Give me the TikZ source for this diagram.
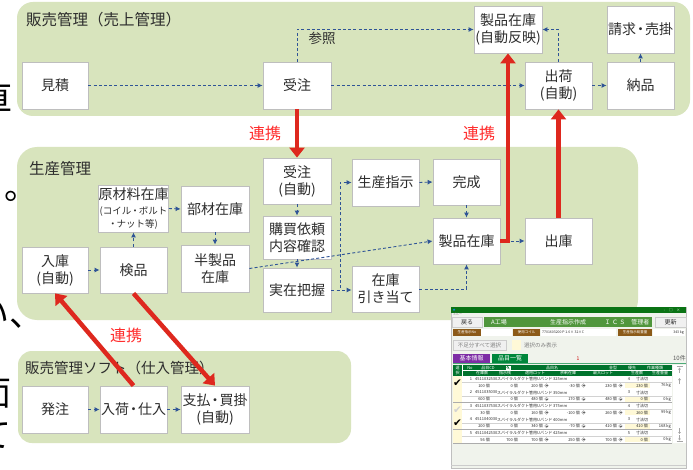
\documentclass[tikz,border=0pt]{standalone}
\usepackage{fontspec}
\setmainfont{Noto Sans CJK JP}
\newfontfamily\dvfont{DejaVu Sans}
\usetikzlibrary{arrows.meta,calc}
\definecolor{panel}{RGB}{216,228,189}
\definecolor{boxline}{RGB}{190,190,190}
\definecolor{dblue}{RGB}{47,84,150}
\definecolor{redarr}{RGB}{222,40,30}
\definecolor{redtxt}{RGB}{255,45,45}
\definecolor{txt}{RGB}{45,45,45}
\definecolor{wingreen}{RGB}{10,115,20}
\definecolor{bargreen}{RGB}{80,150,60}
\definecolor{hdrgreen}{RGB}{0,115,45}
\definecolor{tabgreen}{RGB}{0,135,60}
\definecolor{tabpurple}{RGB}{125,45,165}
\definecolor{brownlbl}{RGB}{140,90,25}
\definecolor{chky}{RGB}{255,249,215}
\definecolor{winbg}{RGB}{240,243,236}
\newcommand\kdot{\kern-2.5pt・\kern-2.5pt}
\newcommand\sdot{\kern-1pt・\kern-1pt}
\tikzset{
  box/.style={draw=boxline, fill=white, line width=0.8pt, inner sep=0pt, align=center,
    font=\fontsize{14}{17}\selectfont, text=txt, minimum width=67pt, minimum height=47pt},
  sz/.style 2 args={minimum width=#1pt, minimum height=#2pt},
  da/.style={draw=dblue, line width=0.9pt, dash pattern=on 3pt off 2.2pt, -{Latex[length=5pt,width=5pt]}},
  ra/.style={draw=redarr, line width=4.5pt, -{Triangle[length=10pt,width=15pt]}},
  lbl/.style={text=redtxt, inner sep=0pt, font=\fontsize{16}{16}\selectfont},
  ttl/.style={anchor=west, inner sep=0pt, text=txt, font=\fontsize{15.5}{16}\selectfont},
  pnl/.style={fill=panel, draw=none},
  frag/.style={inner sep=0pt, text=black, font=\fontsize{34}{34}\selectfont},
  tiny/.style={inner sep=0pt, font=\fontsize{4}{4}\selectfont, text=txt},
  tinyw/.style={inner sep=0pt, font=\fontsize{4}{4}\selectfont, text=white},
  btn/.style={fill=gray!12, draw=gray!40, line width=0.3pt},
}
\begin{document}
\begin{tikzpicture}[x=1pt,y=-1pt]
\useasboundingbox (0,0) rectangle (693,470);
\fill[white] (0,0) rectangle (693,470);
\begin{scope}
\clip (0,0) rectangle (693,470);
% cut-off article text at left edge
\node[frag, anchor=east] (f1) at (13,98) {直};
\node[frag, anchor=west] (f2) at (-29,187) {り。};
\node[frag, anchor=west] (f3) at (-25,316) {い、};
\node[frag, anchor=east] (f4) at (12,394) {面};
\node[frag, anchor=east] (f5) at (12,436) {て};
\end{scope}

% panels
\fill[pnl, rounded corners=16pt] (17,2) rectangle (690,116);
\fill[pnl, rounded corners=20pt] (17,147) rectangle (638,320);
\fill[pnl, rounded corners=14pt] (18,351) rectangle (351,443);
\node[ttl] (t1) at (26,20) {販売管理（売上管理）};
\node[ttl] (t2) at (29,169) {生産管理};
\node[ttl, font=\fontsize{14.5}{15}\selectfont] (t3) at (25,368) {販売管理ソフト（仕入管理）};

% top panel nodes
\node[box, sz={66}{47}] (mitsumori) at (55,85.5) {見積};
\node[box, sz={68}{47}] (juchu) at (297,85.5) {受注};
\node[box, sz={68}{47}] (seihinA) at (508,29.5) {製品在庫\\(自動反映)};
\node[box] (shukka) at (558.5,85.5) {出荷\\(自動)};
\node[box] (seikyu) at (640.5,29.5) {請求\kdot 売掛};
\node[box] (nohin) at (640.5,85.5) {納品};

% middle panel nodes
\node[box] (genzai) at (133.5,208.5) {原材料在庫\\[-2pt]{\fontsize{9.5}{11}\selectfont (コイル\sdot ボルト}\\[-4pt]{\fontsize{9.5}{11}\selectfont \sdot ナット等)}};
\node[box, sz={68}{46}] (buzai) at (215,209) {部材在庫};
\node[box, sz={68}{46}] (juchu2) at (297,181) {受注\\(自動)};
\node[box, sz={68}{43}] (konyu) at (297,237.5) {購買依頼\\内容確認};
\node[box, sz={66}{46}] (nyuko) at (55,270) {入庫\\(自動)};
\node[box, sz={67}{46}] (kenpin) at (133.5,270) {検品};
\node[box, sz={68}{47}] (hanseihin) at (215,268.5) {半製品\\在庫};
\node[box, sz={68}{44}] (jitsuzai) at (297,290) {実在把握};
\node[box] (seisan) at (385.5,182.5) {生産指示};
\node[box, sz={67}{46}] (kansei) at (466.5,182) {完成};
\node[box, sz={67}{46}] (seihinB) at (466.5,241) {製品在庫};
\node[box, sz={67}{46}] (shukko) at (558.5,241) {出庫};
\node[box, sz={67}{46}] (hikiate) at (385.5,289) {在庫\\引き当て};

% bottom panel nodes
\node[box, sz={66}{47}] (hatchu) at (55,409.5) {発注};
\node[box] (nyuka) at (133.5,409.5) {入荷\kdot 仕入};
\node[box, sz={68}{47}] (shiharai) at (215,409.5) {支払\kdot 買掛\\(自動)};

% dashed connectors
\draw[da] (mitsumori.east) -- (juchu.west);
\draw[da] (juchu.east) -- (shukka.west);
\draw[da] (juchu.north) |- (seihinA.west);
\node[inner sep=0pt, text=txt, font=\fontsize{13.5}{14}\selectfont] (sansho) at (322,38) {参照};
\draw[da] (shukka.north) |- (seihinA.east);
\draw[da] (shukka.east) -- (nohin.west);
\draw[da] (nohin.north) -- (seikyu.south);
\draw[da] (nyuko.east) -- (kenpin.west);
\draw[da] (kenpin.north) -- (genzai.south);
\draw[da] (genzai.east) -- (buzai.west);
\draw[da] (buzai.south) -- (hanseihin.north);
\draw[da] (hanseihin.east) -- (seihinB.west);
\draw[da] (juchu2.south) -- (konyu.north);
\draw[da] (konyu.south) -- (jitsuzai.north);
\coordinate (jc) at (340,290);
\draw[da] (jitsuzai.east) -- (jc) |- (seisan.west);
\draw[da] (jitsuzai.east) -- (jitsuzai.east -| hikiate.west);
\draw[da] (hikiate.east) -| (seihinB.south);
\draw[da] (seisan.east) -- (kansei.west);
\draw[da] (kansei.south) -- (seihinB.north);
\draw[da] (seihinB.east) -- (shukko.west);
\draw[da] (hatchu.east) -- (nyuka.west);
\draw[da] (nyuka.east) -- (shiharai.west);

% red connectors
\draw[ra] (juchu.south) -- (juchu2.north);
\draw[ra] (seihinB.east) -| (seihinA.south);
\draw[ra] (shukko.north) -- (shukka.south);
\draw[ra] (nyuka.north) -- (nyuko.south);
\draw[ra] (kenpin.south) -- (shiharai.north);
\node[lbl] (r1) at (265,133) {連携};
\node[lbl] (r2) at (479,133) {連携};
\node[lbl] (r3) at (126,335) {連携};

% ===== software screenshot =====
\fill[winbg] (451,307) rectangle (686,468);
\draw[gray!50, line width=0.4pt] (451,307) rectangle (686,468);
\fill[wingreen] (451,307) rectangle (686,312.5);
\fill[cyan!70!blue] (454,309.7) circle (1.2pt);
\node[tinyw, font=\fontsize{3.5}{4}\selectfont] (wc) at (672,309.7) {-\hspace{4pt}□\hspace{4pt}×};
\node[tiny, anchor=west, text=gray, font=\fontsize{3}{3}\selectfont] (wm) at (453,314.5) {ズルー};
% row 1
\draw[btn] (452,317) rectangle (482,327);
\node[tiny, font=\fontsize{6}{6}\selectfont] (bk) at (467,322) {戻る};
\fill[bargreen] (484,317) rectangle (652,327);
\node[tinyw, font=\fontsize{6}{6}\selectfont] (fa) at (499,322) {A工場};
\node[tinyw, font=\fontsize{6}{6}\selectfont] (fb) at (568,322) {生産指示作成};
\node[tinyw, font=\fontsize{6}{6}\selectfont] (fc) at (627,322) {Ｉ Ｃ Ｓ　管理者};
\draw[btn] (655,317) rectangle (686,327);
\node[tiny, font=\fontsize{6}{6}\selectfont] (up) at (670.5,322) {更新};
% row 2
\fill[brownlbl] (453,329) rectangle (481,336);
\node[tinyw, font=\fontsize{3.5}{4}\selectfont] (l1) at (467,332.5) {生産指示No};
\fill[white] (481,329) rectangle (512,336);
\fill[brownlbl] (513,329) rectangle (540,336);
\node[tinyw, font=\fontsize{3.5}{4}\selectfont] (l2) at (526.5,332.5) {使用コイル};
\fill[white] (541,329) rectangle (616,336);
\node[tiny, anchor=west, font=\fontsize{3.5}{4}\selectfont] (l3) at (542,332.5) {7701603200 P 1.6× 32×C};
\fill[brownlbl] (618,329) rectangle (652,336);
\node[tinyw, font=\fontsize{3.5}{4}\selectfont] (l4) at (635,332.5) {生産指示総重量};
\fill[white] (653,329) rectangle (685,336);
\node[tiny, anchor=east, font=\fontsize{3.5}{4}\selectfont] (l5) at (684,332.5) {343 kg};
% row 3
\draw[btn] (453,340) rectangle (506,350);
\node[tiny, text=gray, font=\fontsize{5.5}{6}\selectfont] (sel) at (479.5,345) {不足分すべて選択};
\fill[chky] (512,340) rectangle (521,350);
\node[tiny, anchor=west, text=gray, font=\fontsize{5.5}{6}\selectfont] (sel2) at (524,345) {選択のみ表示};
% tabs
\fill[tabpurple] (453,354) rectangle (490,362.5);
\node[tinyw, font=\fontsize{6}{6}\selectfont] (tb1) at (471.5,358.2) {基本情報};
\fill[tabgreen] (492,354) rectangle (528,362.5);
\node[tinyw, font=\fontsize{6}{6}\selectfont] (tb2) at (510,358.2) {品目一覧};
\node[tiny, text=red!80!black, font=\fontsize{5}{5}\selectfont] (one) at (578,358.5) {1};
\node[tiny, anchor=east, text=gray!70!black, font=\fontsize{6}{6}\selectfont] (cnt) at (686,358.2) {10件};
\fill[tabgreen!70] (453,362.5) rectangle (686,364);
% table header
\fill[hdrgreen] (453,365) rectangle (672,375.5);
\draw[white, line width=0.3pt] (462,365) -- (462,375.5) (462,370.2) -- (672,370.2);
\node[tinyw] (h0) at (457.5,367.6) {選};
\node[tinyw] (h0b) at (457.5,372.8) {択};
\node[tinyw] (h1) at (470,367.6) {No};
\node[tinyw] (h2) at (488,367.6) {品目CD};
\fill[white] (505.5,365.7) rectangle (510.5,369.6);
\draw[hdrgreen, line width=0.3pt] (507.6,367.3) circle (1pt) (508.3,368) -- (509.5,369.2);
\node[tinyw] (h3) at (552,367.6) {品目名};
\node[tinyw] (h4) at (613,367.6) {金型};
\node[tinyw] (h5) at (632,367.6) {優先};
\node[tinyw] (h6) at (655,367.6) {作業種類};
\node[tinyw] (h7) at (482,372.8) {在庫数};
\node[tinyw] (h8) at (505,372.8) {指示残};
\node[tinyw] (h9) at (535,372.8) {適用ロット};
\node[tinyw] (h10) at (568,372.8) {余剰在庫};
\node[tinyw] (h11) at (603,372.8) {最大ロット};
\node[tinyw] (h12) at (637,372.8) {生産数};
\node[tinyw] (h13) at (660,372.8) {生産重量};
% scroll column
\fill[white] (673,365) rectangle (686,443);
\draw[gray!70, line width=0.5pt] (676.5,366.5) -- (682.5,366.5);
\draw[gray!70, line width=0.5pt, -{Latex[length=2pt,width=3pt]}] (679.5,373) -- (679.5,367.5);
\draw[gray!70, line width=0.5pt, -{Latex[length=2pt,width=3pt]}] (679.5,384) -- (679.5,378);
\draw[gray!70, line width=0.5pt, -{Latex[length=2pt,width=3pt]}] (679.5,428) -- (679.5,434);
\draw[gray!70, line width=0.5pt, -{Latex[length=2pt,width=3pt]}] (679.5,435) -- (679.5,440.5);
\draw[gray!70, line width=0.5pt] (676.5,441.5) -- (682.5,441.5);
% table rows
\foreach \i/\y/\code/\mm/\pri/\a/\b/\c/\d/\e/\f/\g in {
  1/375.5/4511032530/325/4/100/0/200/-30/230/230/76,
  2/389/4511035030/350/3/600/0/480/170/480/0/0,
  3/402.5/4511037530/375/4/30/0/160/-100/260/260/99,
  4/416/4511040030/400/3/200/0/340/-70/410/410/168,
  5/429.5/4511042530/425/5/56/700/700/250/700/0/0}{
  \fill[white] (462,\y) rectangle (672,\y+13.5);
  \fill[chky] (453,\y) rectangle (462,\y+13.5);
  \fill[chky] (625,\y+7) rectangle (650,\y+12.8);
  \draw[gray!35, line width=0.3pt] (462,\y+6.8) -- (672,\y+6.8);
  \draw[gray!65, line width=0.9pt] (453,\y+13.5) -- (672,\y+13.5);
  \node[tiny] (n\i) at (471,\y+3.5) {\i};
  \node[tiny, anchor=west] (c\i) at (475,\y+3.5) {\code};
  \node[tiny, anchor=west] (p\i) at (497,\y+3.5) {スパイラルダクト管用Uバンド \mm mm};
  \node[tiny] (q\i) at (629,\y+3.5) {\pri};
  \node[tiny, anchor=west] (s\i) at (636,\y+3.5) {寸法切};
  \node[tiny, anchor=east] (va\i) at (490,\y+10) {\a\ 個};
  \node[tiny, anchor=east] (vb\i) at (518,\y+10) {\b\ 個};
  \node[tiny, anchor=east] (vc\i) at (543,\y+10) {\c\ 個};
  \node[tiny, anchor=east] (vd\i) at (580,\y+10) {\d\ 個};
  \node[tiny, anchor=east] (ve\i) at (617,\y+10) {\e\ 個};
  \node[tiny, anchor=east] (vf\i) at (648,\y+10) {\f\ 個};
  \node[tiny, anchor=east] (vg\i) at (671,\y+10) {\g\ kg};
  \foreach \xx in {546.5,583.5,620.5}{
    \draw[fill=gray!25, draw=gray!70, line width=0.3pt] (\xx,\y+10) circle (1.8pt);
    \draw[gray!80!black, line width=0.35pt] (\xx-1,\y+10) -- (\xx+1,\y+10);
  }
}
\node[inner sep=0pt, font=\dvfont\fontsize{10.5}{10.5}\selectfont] (ck1) at (457.5,383) {✔};
\node[inner sep=0pt, text=gray!35, font=\dvfont\fontsize{10.5}{10.5}\selectfont] (ck3) at (457.5,410) {✔};
\node[inner sep=0pt, font=\dvfont\fontsize{10.5}{10.5}\selectfont] (ck4) at (457.5,423.5) {✔};
\draw[gray!40, line width=0.4pt] (451,465) -- (686,465);
\end{tikzpicture}
\end{document}
